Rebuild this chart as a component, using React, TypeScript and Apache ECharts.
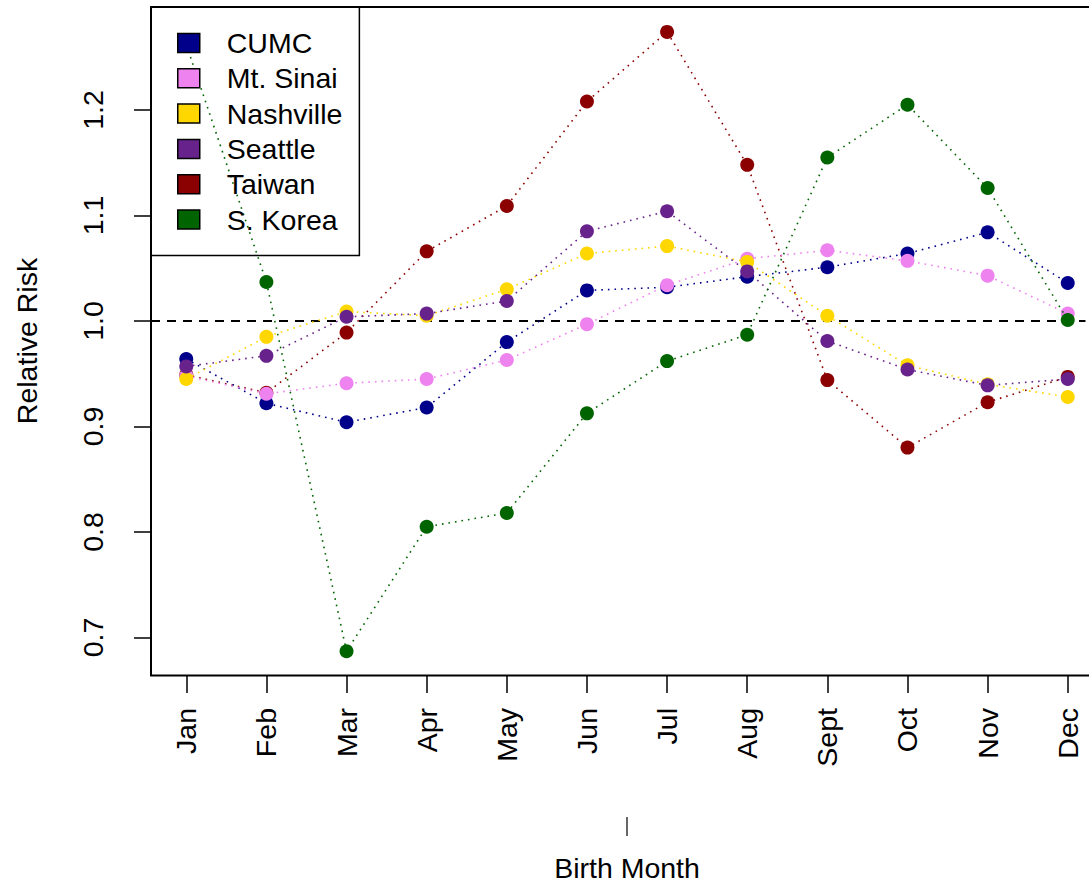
import React, { useEffect, useRef } from "react";
import * as echarts from "echarts";

const months = ["Jan", "Feb", "Mar", "Apr", "May", "Jun", "Jul", "Aug", "Sept", "Oct", "Nov", "Dec"];
const monthIdx = [0, 1, 2, 3, 4, 5, 6, 7, 8, 9, 10, 11];
const yTicks = [0.7, 0.8, 0.9, 1.0, 1.1, 1.2];

const cumc = [0.964, 0.922, 0.904, 0.918, 0.980, 1.029, 1.032, 1.042, 1.051, 1.064, 1.084, 1.036];
const mtSinai = [0.948, 0.931, 0.941, 0.945, 0.963, 0.997, 1.034, 1.059, 1.067, 1.057, 1.043, 1.007];
const nashville = [0.945, 0.985, 1.009, 1.005, 1.030, 1.064, 1.071, 1.056, 1.005, 0.958, 0.940, 0.928];
const seattle = [0.957, 0.967, 1.004, 1.007, 1.019, 1.085, 1.104, 1.047, 0.981, 0.954, 0.939, 0.945];
const taiwan = [0.949, 0.932, 0.989, 1.066, 1.109, 1.208, 1.274, 1.148, 0.944, 0.880, 0.923, 0.947];
const sKorea = [1.262, 1.037, 0.687, 0.805, 0.818, 0.9125, 0.962, 0.987, 1.155, 1.205, 1.126, 1.001];

const seriesNames = ["CUMC", "Mt. Sinai", "Nashville", "Seattle", "Taiwan", "S. Korea"];
const seriesColors = ["#00008B", "#EE82EE", "#FFD700", "#68228B", "#8B0000", "#006400"];
const seriesValues = [cumc, mtSinai, nashville, seattle, taiwan, sKorea];
// drawing order (later on top)
const drawOrder = [4, 0, 1, 2, 3, 5];

const FONT = "'Liberation Sans', Arial, Helvetica, sans-serif";

export default function App() {
  const ref = useRef<HTMLDivElement>(null);
  useEffect(() => {
    document.body.style.margin = "0";
    document.body.style.overflow = "hidden";
    if (!ref.current) return;
    const chart = echarts.init(ref.current, null, { renderer: "svg" });
    const series: any[] = drawOrder.map((k, n) => ({
      name: seriesNames[k],
      type: "line",
      data: monthIdx.map((i) => [i, seriesValues[k][i]]),
      symbol: "circle",
      symbolSize: 14,
      showSymbol: true,
      clip: false,
      itemStyle: { color: seriesColors[k] },
      lineStyle: { color: seriesColors[k], width: 1.6, type: [1.6, 5] },
      emphasis: { disabled: true },
      z: 2 + n,
      markLine:
        n === 0
          ? {
              silent: true,
              symbol: "none",
              label: { show: false },
              lineStyle: { color: "#000", width: 2, type: [9, 7] },
              data: [{ yAxis: 1.0 }],
              z: 1,
            }
          : undefined,
    }));
    chart.setOption({
      animation: false,
      backgroundColor: "#fff",
      textStyle: { fontFamily: FONT },
      grid: {
        left: 151,
        top: 7,
        width: 952,
        height: 668,
        show: false,
        containLabel: false,
        outerBoundsMode: "none",
      },
      legend: {
        data: seriesNames,
        orient: "vertical",
        left: 151,
        top: 7,
        icon: "rect",
        itemWidth: 22,
        itemHeight: 19,
        itemGap: 6.3,
        padding: [21.5, 17, 21.5, 26],
        borderColor: "#000",
        borderWidth: 1.5,
        selectedMode: false,
        itemStyle: { borderColor: "#000", borderWidth: 1.5 },
        textStyle: {
          fontFamily: FONT,
          fontSize: 28.5,
          color: "#000",
          padding: [0, 0, 0, 22],
        },
        z: 20,
      },
      xAxis: {
        type: "value",
        min: -0.44,
        max: 11.44,
        name: "Birth Month",
        nameLocation: "middle",
        nameGap: 178,
        nameTextStyle: { fontFamily: FONT, fontSize: 28.5, color: "#000" },
        splitLine: { show: false },
        axisLine: { show: false, onZero: false },
        axisTick: {
          show: true,
          length: 18,
          lineStyle: { color: "#000", width: 1.5 },
          customValues: monthIdx,
        },
        axisLabel: {
          rotate: 90,
          margin: 33,
          fontFamily: FONT,
          fontSize: 28.5,
          color: "#000",
          customValues: monthIdx,
          formatter: (v: number) => months[Math.round(v)] ?? "",
        },
      },
      yAxis: {
        type: "value",
        min: 0.6645,
        max: 1.2976,
        name: "Relative Risk",
        nameLocation: "middle",
        nameRotate: 90,
        nameGap: 110,
        nameTextStyle: { fontFamily: FONT, fontSize: 28.5, color: "#000" },
        splitLine: { show: false },
        axisLine: { show: false, onZero: false },
        axisTick: {
          show: true,
          length: 17,
          lineStyle: { color: "#000", width: 1.5 },
          customValues: yTicks,
        },
        axisLabel: {
          rotate: 90,
          margin: 44,
          fontFamily: FONT,
          fontSize: 28.5,
          color: "#000",
          customValues: yTicks,
          formatter: (v: number) => v.toFixed(1),
        },
      },
      graphic: [
        {
          type: "polyline",
          shape: { points: [[1095, 7], [151, 7], [151, 675.5], [1095, 675.5]] },
          style: { stroke: "#000", lineWidth: 2, fill: null },
          silent: true,
          z: 30,
        },
        {
          type: "rect",
          shape: { x: 1085.5, y: 20, width: 20, height: 645 },
          style: { fill: "#fff", stroke: null },
          silent: true,
          z: 40,
        },
        {
          type: "line",
          shape: { x1: 627, y1: 817, x2: 627, y2: 836 },
          style: { stroke: "#000", lineWidth: 1.2 },
          silent: true,
        },
      ],
      series,
    });
    return () => chart.dispose();
  }, []);
  return <div ref={ref} style={{ position: "absolute", left: 0, top: 0, width: 1089, height: 885, overflow: "hidden", background: "#fff" }} />;
}
